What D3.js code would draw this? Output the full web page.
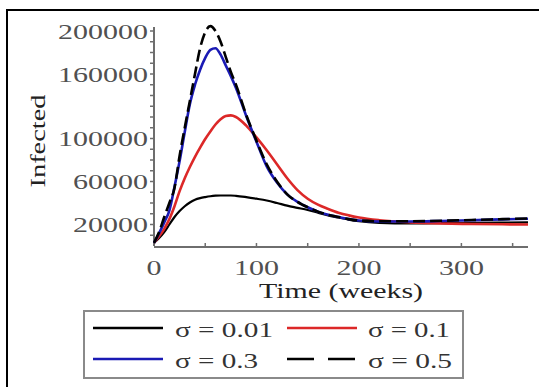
<!DOCTYPE html>
<html>
<head>
<meta charset="utf-8">
<script src="https://cdn.jsdelivr.net/npm/d3@7"></script>
<style>
  body { margin: 0; background: #fff; }
  svg { display: block; }
</style>
</head>
<body>
<div id="chart"></div>
<script>
// weeks sampled along the curves
const weeks = [0, 5, 10, 15, 20, 25, 30, 35, 40, 45, 50, 55, 60, 65, 70, 75, 80, 90, 100, 110, 120, 130, 140, 150, 160, 170, 180, 190, 200, 220, 250, 280, 310, 340, 365];

// infected
const sigma001 = [3000, 7500, 13000, 20000, 27000, 32500, 37000, 40500, 43000, 44500, 45500, 46300, 46800, 47000, 47000, 47000, 46700, 45500, 44000, 42300, 40000, 37500, 35500, 33500, 31000, 28500, 26500, 24500, 23000, 21500, 21000, 21200, 21500, 21800, 22000];
const sigma01 = [3000, 9000, 16000, 25000, 37000, 51000, 63000, 73500, 83000, 91500, 99500, 106500, 113000, 118000, 121000, 121500, 120000, 112000, 101000, 89000, 76000, 63000, 52000, 44000, 38500, 34500, 31000, 28500, 26500, 24000, 22000, 21000, 20500, 20200, 20000];
const sigma03 = [3000, 12000, 22000, 33000, 55000, 79000, 106000, 132000, 150000, 164000, 175000, 182500, 184000, 178000, 168000, 158000, 147000, 121000, 97000, 74000, 59000, 48000, 41000, 36000, 32000, 29000, 27000, 25000, 23700, 22800, 22800, 23300, 24000, 24800, 25400];
const sigma05 = [3000, 13000, 27000, 40000, 54000, 84000, 110000, 135000, 160000, 184000, 199000, 204500, 200000, 190000, 176000, 162000, 150000, 122000, 98000, 76000, 60000, 48000, 41000, 36000, 32000, 29000, 27000, 25000, 23800, 23000, 23000, 23500, 24200, 25000, 25600];

const seriesNames = ["σ = 0.01", "σ = 0.1", "σ = 0.3", "σ = 0.5"];
const seriesValues = [sigma001, sigma01, sigma03, sigma05];
const seriesColors = ["#000000", "#dc2828", "#1a1ab4", "#000000"];

const yTickLabels = [20000, 60000, 100000, 160000, 200000];
const xTickLabels = [0, 100, 200, 300];

const width = 539, height = 387;
const serif = "'Liberation Serif', 'Times New Roman', serif";

const svg = d3.select("#chart").append("svg")
  .attr("width", width)
  .attr("height", height);

// outer frame (only top and left visible)
svg.append("path")
  .attr("d", `M7,${height} V10 H${width}`)
  .attr("fill", "none")
  .attr("stroke", "#000")
  .attr("stroke-width", 2);

const x = d3.scaleLinear().domain([0, 365]).range([154, 528]);
const y = d3.scaleLinear().domain([0, 200000]).range([246, 31]);

const axisColor = "#6e6e6e";
const labelColor = "#505050";

// y axis
svg.append("line")
  .attr("x1", x(0)).attr("x2", x(0))
  .attr("y1", y(0)).attr("y2", 27)
  .attr("stroke", axisColor).attr("stroke-width", 2);

svg.append("g")
  .selectAll("line")
  .data(d3.range(10000, 200001, 10000))
  .join("line")
  .attr("x1", x(0) - 4).attr("x2", x(0))
  .attr("y1", d => y(d)).attr("y2", d => y(d))
  .attr("stroke", axisColor).attr("stroke-width", 1.5);

svg.append("g")
  .selectAll("text")
  .data(yTickLabels)
  .join("text")
  .attr("x", x(0) - 6)
  .attr("y", d => y(d) + 7.5)
  .attr("text-anchor", "end")
  .attr("font-family", serif)
  .attr("font-size", 22)
  .attr("fill", labelColor)
  .attr("textLength", d => String(d).length * 15)
  .attr("lengthAdjust", "spacingAndGlyphs")
  .text(d => d);

// x axis
svg.append("line")
  .attr("x1", x(0)).attr("x2", x(365))
  .attr("y1", 247).attr("y2", 247)
  .attr("stroke", axisColor).attr("stroke-width", 2);

svg.append("g")
  .selectAll("line")
  .data(d3.range(50, 365, 50))
  .join("line")
  .attr("x1", d => x(d)).attr("x2", d => x(d))
  .attr("y1", 247).attr("y2", 243)
  .attr("stroke", axisColor).attr("stroke-width", 1.5);

svg.append("g")
  .selectAll("text")
  .data(xTickLabels)
  .join("text")
  .attr("x", d => x(d))
  .attr("y", 275)
  .attr("text-anchor", "middle")
  .attr("font-family", serif)
  .attr("font-size", 21)
  .attr("fill", labelColor)
  .attr("textLength", d => String(d).length * 15)
  .attr("lengthAdjust", "spacingAndGlyphs")
  .text(d => d);

// axis titles
svg.append("text")
  .attr("x", 341).attr("y", 298)
  .attr("text-anchor", "middle")
  .attr("font-family", serif)
  .attr("font-size", 21)
  .attr("fill", "#222")
  .attr("textLength", 164)
  .attr("lengthAdjust", "spacingAndGlyphs")
  .text("Time (weeks)");

svg.append("text")
  .attr("transform", "translate(45,141) rotate(-90)")
  .attr("text-anchor", "middle")
  .attr("font-family", serif)
  .attr("font-size", 22)
  .attr("fill", "#222")
  .attr("textLength", 93)
  .attr("lengthAdjust", "spacingAndGlyphs")
  .text("Infected");

// curves
const line = d3.line()
  .x((d, i) => x(weeks[i]))
  .y(d => y(d))
  .curve(d3.curveMonotoneX);

seriesValues.forEach((vals, k) => {
  svg.append("path")
    .datum(vals)
    .attr("d", line)
    .attr("fill", "none")
    .attr("stroke", seriesColors[k])
    .attr("stroke-width", k === 0 ? 2.2 : 2.6)
    .attr("stroke-dasharray", k === 3 ? "12,5" : null)
    .attr("stroke-linejoin", "round");
});

// legend
svg.append("rect")
  .attr("x", 84).attr("y", 311)
  .attr("width", 379).attr("height", 67)
  .attr("fill", "#fff")
  .attr("stroke", "#8a8a8a")
  .attr("stroke-width", 2);

const legendPos = [
  {lx: 93, ly: 328, tx: 175, tw: 98},
  {lx: 287, ly: 328, tx: 368, tw: 82},
  {lx: 93, ly: 359, tx: 175, tw: 83},
  {lx: 287, ly: 359, tx: 368, tw: 84}
];

const legend = svg.append("g")
  .selectAll("g")
  .data(seriesNames)
  .join("g");

legend.append("line")
  .attr("x1", (d, i) => legendPos[i].lx)
  .attr("x2", (d, i) => legendPos[i].lx + 70)
  .attr("y1", (d, i) => legendPos[i].ly)
  .attr("y2", (d, i) => legendPos[i].ly)
  .attr("stroke", (d, i) => seriesColors[i])
  .attr("stroke-width", 2.5)
  .attr("stroke-dasharray", (d, i) => i === 3 ? "27,14" : null);

legend.append("text")
  .attr("x", (d, i) => legendPos[i].tx)
  .attr("y", (d, i) => legendPos[i].ly + 9)
  .attr("font-family", serif)
  .attr("font-size", 21)
  .attr("fill", "#333")
  .attr("textLength", (d, i) => legendPos[i].tw)
  .attr("lengthAdjust", "spacingAndGlyphs")
  .text(d => d);
</script>
</body>
</html>
